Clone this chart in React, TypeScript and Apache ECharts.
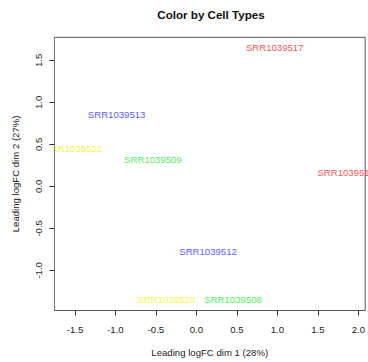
import React, { useEffect, useRef } from "react";
import * as echarts from "echarts";

// MDS coordinates of the airway samples, coloured by cell line
const sampleNames = [
  "SRR1039508", "SRR1039509", "SRR1039512", "SRR1039513",
  "SRR1039516", "SRR1039517", "SRR1039520", "SRR1039521",
];
const dim1 = [0.453, -0.537, 0.144, -0.985, 1.85, 0.967, -0.373, -1.52];
const dim2 = [-1.35, 0.319, -0.775, 0.855, 0.167, 1.649, -1.35, 0.447];
const sampleColors = [
  "#22ee22", "#22ee22", "#2a2aff", "#2a2aff",
  "#ff1a1a", "#ff1a1a", "#f2f200", "#f2f200",
];

const xTicks = [-1.5, -1.0, -0.5, 0.0, 0.5, 1.0, 1.5, 2.0];
const yTicks = [-1.0, -0.5, 0.0, 0.5, 1.0, 1.5];
const xRange = [-1.755, 2.085];
const yRange = [-1.478, 1.774];

const FONT = "Liberation Sans, Arial, Helvetica, sans-serif";

export default function App() {
  const ref = useRef<HTMLDivElement>(null);

  useEffect(() => {
    if (!ref.current) return;
    const chart = echarts.init(ref.current, undefined, { renderer: "svg" });

    const points = sampleNames.map((name, i) => ({
      name,
      value: [dim1[i], dim2[i]],
      label: { color: sampleColors[i] },
    }));

    const axisText = { color: "#222", fontFamily: FONT, fontSize: 9.6 };

    chart.setOption({
      animation: false,
      backgroundColor: "#fff",
      title: {
        text: "Color by Cell Types",
        left: 211,
        top: 8,
        padding: 0,
        textAlign: "center",
        textStyle: { fontFamily: FONT, fontSize: 11.6, fontWeight: "bold", color: "#111" },
      },
      grid: {
        left: 54.3,
        top: 37.3,
        width: 313.7,
        height: 278.7,
        show: true,
        borderColor: "#555",
        borderWidth: 1,
        backgroundColor: "transparent",
      },
      xAxis: {
        type: "value",
        position: "bottom",
        min: xRange[0],
        max: xRange[1],
        z: 10,
        splitLine: { show: false },
        axisLine: { show: true, onZero: false, lineStyle: { color: "transparent" } },
        axisTick: {
          show: true,
          inside: false,
          length: 5,
          lineStyle: { color: "#333", width: 1 },
          customValues: xTicks,
        },
        axisLabel: {
          ...axisText,
          margin: 13.5,
          customValues: xTicks,
          formatter: (v: number) => v.toFixed(1),
        },
        name: "Leading logFC dim 1 (28%)",
        nameLocation: "middle",
        nameGap: 36.5,
        nameTextStyle: axisText,
      },
      yAxis: {
        type: "value",
        position: "left",
        min: yRange[0],
        max: yRange[1],
        z: 10,
        splitLine: { show: false },
        axisLine: { show: true, onZero: false, lineStyle: { color: "transparent" } },
        axisTick: {
          show: true,
          inside: false,
          length: 5,
          lineStyle: { color: "#333", width: 1 },
          customValues: yTicks,
        },
        axisLabel: {
          ...axisText,
          rotate: 90,
          margin: 11,
          customValues: yTicks,
          formatter: (v: number) => v.toFixed(1),
        },
        name: "Leading logFC dim 2 (27%)",
        nameLocation: "middle",
        nameGap: 34,
        nameTextStyle: axisText,
      },
      // white margin strip acts as the plot-region clip for sample labels
      graphic: [
        {
          type: "rect",
          z: 5,
          silent: true,
          shape: { x: 0, y: 37, width: 53.8, height: 280 },
          style: { fill: "#fff" },
        },
      ],
      series: [
        {
          type: "scatter",
          z: 2,
          symbolSize: 0,
          data: points,
          label: {
            show: true,
            position: "inside",
            formatter: "{b}",
            fontFamily: FONT,
            fontSize: 9.6,
          },
        },
      ],
    });

    return () => chart.dispose();
  }, []);

  return (
    <div
      ref={ref}
      style={{ position: "fixed", left: 0, top: 0, width: 368, height: 362 }}
    />
  );
}
